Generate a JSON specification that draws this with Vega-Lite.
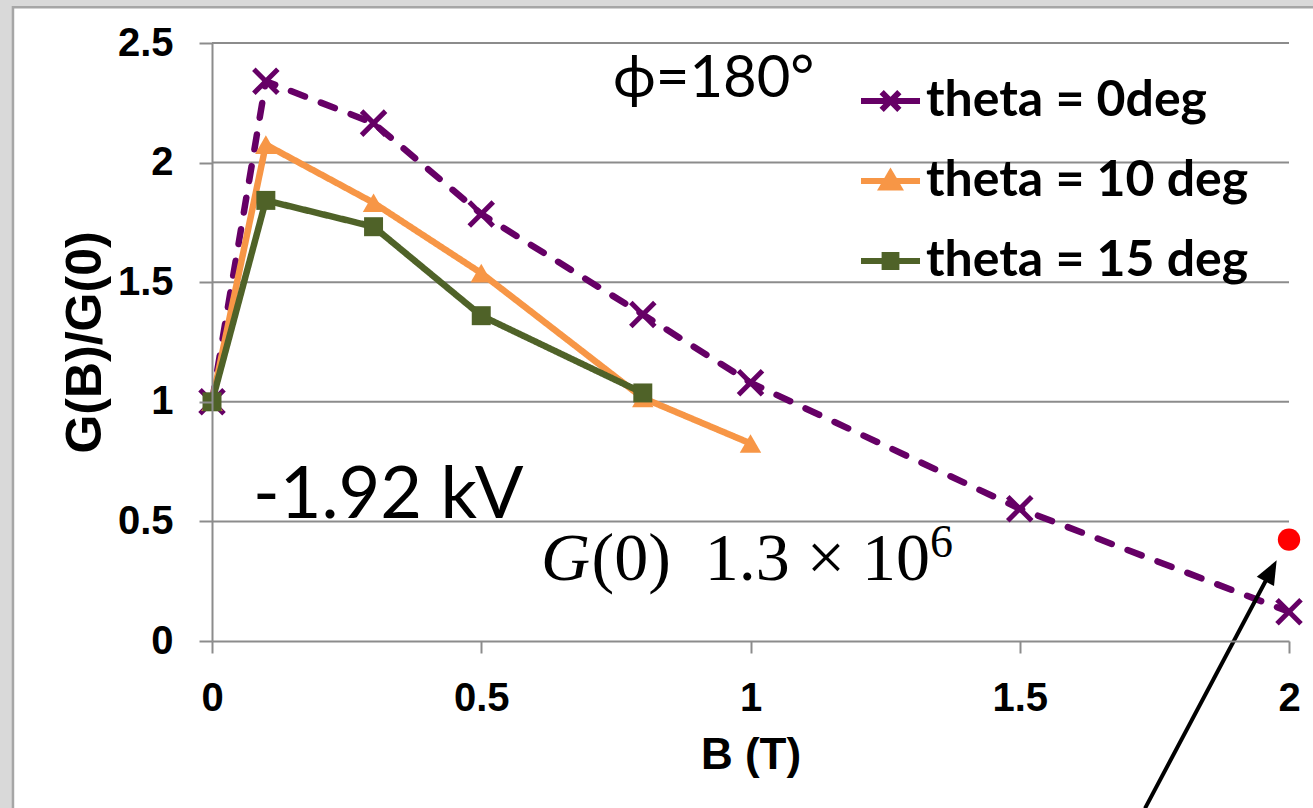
{
  "$schema": "https://vega.github.io/schema/vega-lite/v6.json",
  "width": 1077,
  "height": 598,
  "autosize": {"type": "none"},
  "padding": {"left": 212, "top": 43, "right": 24, "bottom": 167},
  "background": "#d9d9d9",
  "config": {"view": {"stroke": null}, "axis": {"labelColor": "black", "titleColor": "black"}},
  "data": {"values": [{}]},
  "datasets": {
    "curves": [
      {"series": "theta = 0deg", "B": 0, "G": 1.0},
      {"series": "theta = 0deg", "B": 0.1, "G": 2.34},
      {"series": "theta = 0deg", "B": 0.3, "G": 2.165},
      {"series": "theta = 0deg", "B": 0.5, "G": 1.785},
      {"series": "theta = 0deg", "B": 0.8, "G": 1.365},
      {"series": "theta = 0deg", "B": 1.0, "G": 1.08},
      {"series": "theta = 0deg", "B": 1.5, "G": 0.553},
      {"series": "theta = 0deg", "B": 2.0, "G": 0.122},
      {"series": "theta = 10 deg", "B": 0, "G": 1.0},
      {"series": "theta = 10 deg", "B": 0.1, "G": 2.075},
      {"series": "theta = 10 deg", "B": 0.3, "G": 1.832},
      {"series": "theta = 10 deg", "B": 0.5, "G": 1.538},
      {"series": "theta = 10 deg", "B": 0.8, "G": 1.016},
      {"series": "theta = 10 deg", "B": 1.0, "G": 0.826},
      {"series": "theta = 15 deg", "B": 0, "G": 1.0},
      {"series": "theta = 15 deg", "B": 0.1, "G": 1.842},
      {"series": "theta = 15 deg", "B": 0.3, "G": 1.732},
      {"series": "theta = 15 deg", "B": 0.5, "G": 1.36},
      {"series": "theta = 15 deg", "B": 0.8, "G": 1.037}
    ],
    "gridvals": [{"v": 0.5}, {"v": 1.0}, {"v": 1.5}, {"v": 2.0}, {"v": 2.5}],
    "reddot": [{"B": 2.0, "G": 0.424}]
  },
  "layer": [
    {
      "mark": {"type": "rect", "fill": "white", "stroke": "#a6a6a6", "strokeWidth": 2.5},
      "encoding": {
        "x": {"datum": -0.3696, "type": "quantitative"},
        "x2": {"datum": 2.3},
        "y": {"datum": 2.649, "type": "quantitative"},
        "y2": {"datum": -1.2}
      }
    },
    {
      "data": {"name": "gridvals"},
      "mark": {"type": "rule", "color": "#8c8c8c", "strokeWidth": 2},
      "encoding": {"y": {"field": "v", "type": "quantitative"}}
    },
    {
      "data": {"name": "curves"},
      "mark": {"type": "line", "strokeWidth": 6.5, "strokeCap": "round", "strokeJoin": "round"},
      "encoding": {
        "x": {
          "field": "B", "type": "quantitative",
          "scale": {"domain": [0, 2], "nice": false, "zero": false},
          "axis": {
            "title": "B (T)", "values": [0, 0.5, 1, 1.5, 2], "format": "~g", "grid": false, "labelFlush": false,
            "labelFont": "Liberation Sans", "labelFontWeight": "bold", "labelFontSize": 40,
            "labelPadding": 25, "tickSize": 12, "tickWidth": 2, "tickColor": "#8c8c8c",
            "domainColor": "#8c8c8c", "domainWidth": 2,
            "titleFont": "Liberation Sans", "titleFontWeight": "bold", "titleFontSize": 44,
            "titlePadding": 15, "zindex": 1
          }
        },
        "y": {
          "field": "G", "type": "quantitative",
          "scale": {"domain": [0, 2.5], "nice": false, "zero": false},
          "axis": {
            "title": "G(B)/G(0)", "values": [0, 0.5, 1, 1.5, 2, 2.5], "format": "~g", "grid": false, "labelFlush": false,
            "labelFont": "Liberation Sans", "labelFontWeight": "bold", "labelFontSize": 40,
            "labelPadding": 26, "tickSize": 13, "tickWidth": 2, "tickColor": "#8c8c8c",
            "domainColor": "#8c8c8c", "domainWidth": 2,
            "titleFont": "Liberation Sans", "titleFontWeight": "bold", "titleFontSize": 50,
            "titlePadding": 7, "zindex": 1
          }
        },
        "color": {
          "field": "series", "type": "nominal",
          "scale": {"domain": ["theta = 0deg", "theta = 10 deg", "theta = 15 deg"], "range": ["#660066", "#F79646", "#4F6228"]},
          "legend": {
            "orient": "none", "legendX": 646, "legendY": 25.5, "title": null, "padding": 0,
            "symbolSize": 3481, "symbolStrokeWidth": 6, "rowPadding": 22,
            "labelFont": "Lato", "labelFontSize": 50, "labelFontWeight": "bold", "labelColor": "black",
            "labelOffset": 3, "labelLimit": 600,
            "encoding": {
              "symbols": {
                "shape": {"value": {"expr": "datum.value === 'theta = 0deg' ? 'M-1,0H-0.5M-0.5,0H0M0,0H0.5M0.5,0H1M-0.3,-0.3L0,0M0,0L0.3,0.3M-0.3,0.3L0,0M0,0L0.3,-0.3' : datum.value === 'theta = 10 deg' ? 'M-1,0H1M0,-0.26L0.28,0.22L-0.28,0.22Z' : 'M-1,0H1M-0.2,-0.2H0.2V0.2H-0.2Z'"}},
                "fill": {"value": {"expr": "scale('color', datum.value)"}},
                "stroke": {"value": {"expr": "scale('color', datum.value)"}},
                "strokeDash": {"value": [1, 0]},
                "strokeWidth": {"value": 6},
                "opacity": {"value": 1}
              }
            }
          }
        },
        "strokeDash": {
          "field": "series", "type": "nominal",
          "scale": {"domain": ["theta = 0deg", "theta = 10 deg", "theta = 15 deg"], "range": [[15, 17], [1, 0], [1, 0]]},
          "legend": null
        }
      }
    },
    {
      "data": {"name": "curves"},
      "transform": [{"filter": "datum.series === 'theta = 0deg'"}],
      "mark": {"type": "point", "shape": "M-1,-1L1,1M-1,1L1,-1", "stroke": "#660066", "strokeWidth": 5, "size": 576, "opacity": 1, "filled": false},
      "encoding": {
        "x": {"field": "B", "type": "quantitative"},
        "y": {"field": "G", "type": "quantitative"}
      }
    },
    {
      "data": {"name": "curves"},
      "transform": [{"filter": "datum.series === 'theta = 10 deg'"}],
      "mark": {"type": "point", "shape": "triangle-up", "fill": "#F79646", "filled": true, "size": 460, "opacity": 1},
      "encoding": {
        "x": {"field": "B", "type": "quantitative"},
        "y": {"field": "G", "type": "quantitative"}
      }
    },
    {
      "data": {"name": "curves"},
      "transform": [{"filter": "datum.series === 'theta = 15 deg'"}],
      "mark": {"type": "point", "shape": "square", "fill": "#4F6228", "filled": true, "size": 360, "opacity": 1},
      "encoding": {
        "x": {"field": "B", "type": "quantitative"},
        "y": {"field": "G", "type": "quantitative"}
      }
    },
    {
      "data": {"name": "reddot"},
      "mark": {"type": "circle", "color": "#ff0000", "size": 500, "opacity": 1},
      "encoding": {
        "x": {"field": "B", "type": "quantitative"},
        "y": {"field": "G", "type": "quantitative"}
      }
    },
    {
      "mark": {"type": "rule", "color": "black", "strokeWidth": 4},
      "encoding": {
        "x": {"datum": 1.7326, "type": "quantitative"},
        "y": {"datum": -0.6995, "type": "quantitative"},
        "x2": {"datum": 1.964},
        "y2": {"datum": 0.2822}
      }
    },
    {
      "mark": {"type": "point", "shape": "M0,-1L0.65,0.6L-0.65,0.6Z", "filled": true, "color": "black", "size": 900, "angle": 28, "opacity": 1},
      "encoding": {
        "x": {"datum": 1.964, "type": "quantitative"},
        "y": {"datum": 0.2822, "type": "quantitative"}
      }
    },
    {
      "mark": {"type": "text", "text": "ϕ=180°", "font": "Lato", "fontSize": 58, "align": "left", "baseline": "alphabetic", "color": "black"},
      "encoding": {
        "x": {"datum": 0.7447, "type": "quantitative"},
        "y": {"datum": 2.273, "type": "quantitative"}
      }
    },
    {
      "mark": {"type": "text", "text": "-1.92 kV", "font": "Lato", "fontSize": 72, "align": "left", "baseline": "alphabetic", "color": "black"},
      "encoding": {
        "x": {"datum": 0.0761, "type": "quantitative"},
        "y": {"datum": 0.513, "type": "quantitative"}
      }
    },
    {
      "mark": {"type": "text", "text": "G", "font": "Liberation Serif", "fontStyle": "italic", "fontSize": 68, "align": "left", "baseline": "alphabetic", "color": "black"},
      "encoding": {
        "x": {"datum": 0.611, "type": "quantitative"},
        "y": {"datum": 0.2538, "type": "quantitative"}
      }
    },
    {
      "mark": {"type": "text", "text": "(0)\u00a0\u00a01.3\u00a0×\u00a010", "font": "Liberation Serif", "fontSize": 68, "align": "left", "baseline": "alphabetic", "color": "black"},
      "encoding": {
        "x": {"datum": 0.7047, "type": "quantitative"},
        "y": {"datum": 0.2538, "type": "quantitative"}
      }
    },
    {
      "mark": {"type": "text", "text": "6", "font": "Liberation Serif", "fontSize": 46, "align": "left", "baseline": "alphabetic", "color": "black"},
      "encoding": {
        "x": {"datum": 1.3333, "type": "quantitative"},
        "y": {"datum": 0.35, "type": "quantitative"}
      }
    }
  ]
}
